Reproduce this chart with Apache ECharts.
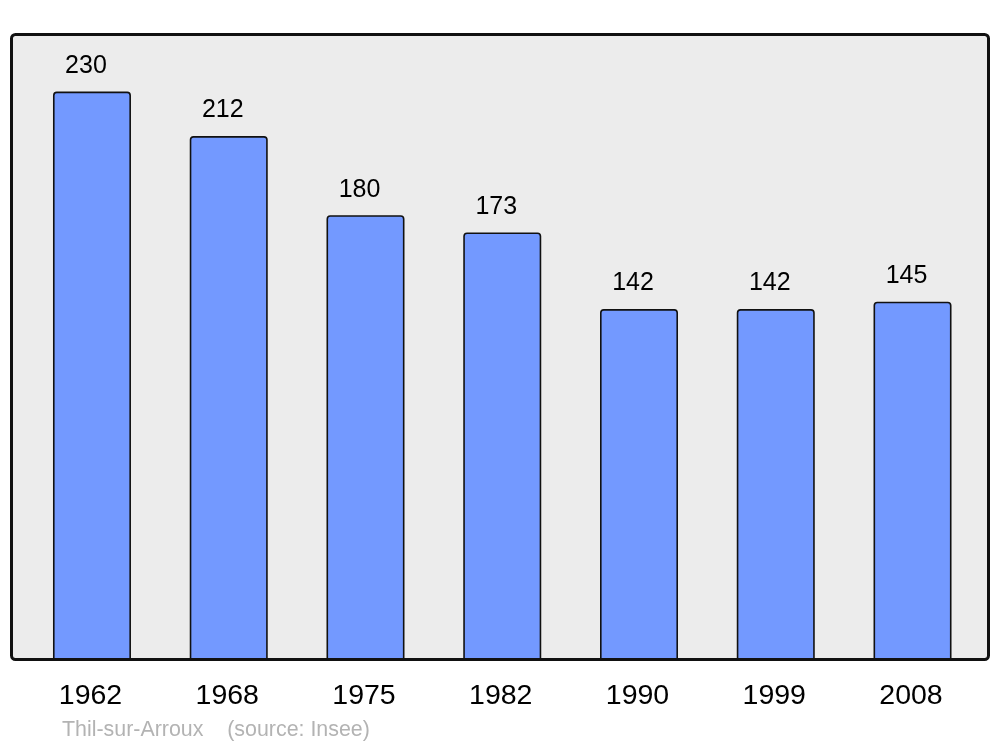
<!DOCTYPE html>
<html>
<head>
<meta charset="utf-8">
<script src="https://cdn.jsdelivr.net/npm/echarts@6/dist/echarts.min.js"></script>
<style>html,body{margin:0;padding:0;background:#fff}#c{width:1000px;height:747px}</style>
</head>
<body>
<div id="c"></div>
<script>
const years = ['1962', '1968', '1975', '1982', '1990', '1999', '2008'];
const population = [230, 212, 180, 173, 142, 142, 145];
const footer = 'Thil-sur-Arroux    (source: Insee)';

const chart = echarts.init(document.getElementById('c'), null, {renderer: 'canvas'});
chart.setOption({
  animation: false,
  backgroundColor: '#ffffff',
  textStyle: {fontFamily: 'Liberation Sans, Arial, sans-serif'},
  grid: {left: 23.6, right: 19.1, top: 34, bottom: 87},
  xAxis: {
    type: 'category',
    data: years,
    axisLine: {show: false},
    axisTick: {show: false},
    axisLabel: {color: '#000', fontSize: 28.5, margin: 22, padding: [0, 3, 0, 0],
                fontFamily: 'Liberation Sans, Arial, sans-serif'}
  },
  yAxis: {
    type: 'value',
    min: 0,
    max: 253.3,
    show: false,
    splitLine: {show: false}
  },
  graphic: [
    {type: 'rect', z: -10, shape: {x: 11.5, y: 34.5, width: 977, height: 625, r: 4},
     style: {fill: '#ececec', stroke: null}},
    {type: 'rect', z: 100, shape: {x: 11.5, y: 34.5, width: 977, height: 625, r: 4},
     style: {fill: null, stroke: '#111', lineWidth: 3}},
    {type: 'text', left: 62, top: 720, z: 100,
     style: {text: footer, fill: '#b3b3b3', font: '21.4px "Liberation Sans", Arial, sans-serif'}}
  ],
  series: [{
    type: 'bar',
    data: population,
    barWidth: 78,
    itemStyle: {color: '#7399ff', borderColor: '#111', borderWidth: 1.6, borderRadius: [3, 3, 0, 0]},
    label: {show: true, position: 'top', distance: 13, offset: [-6, 0], color: '#000', fontSize: 25,
            fontFamily: 'Liberation Sans, Arial, sans-serif'}
  }]
});
</script>
</body>
</html>
